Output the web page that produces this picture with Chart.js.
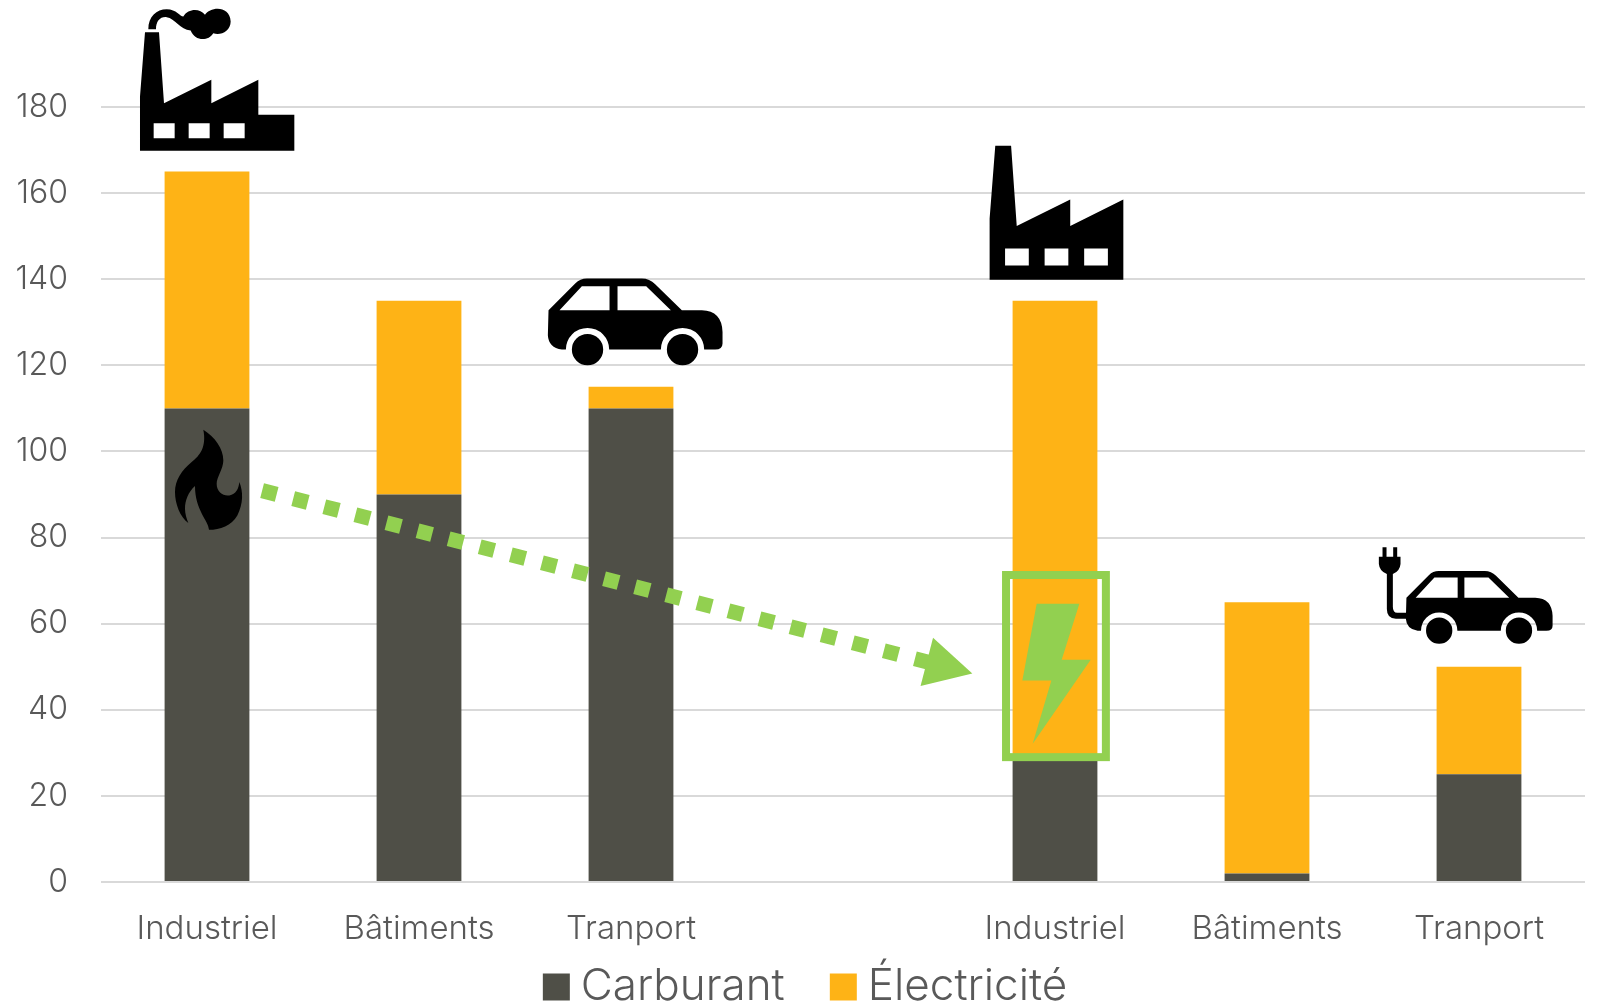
<!DOCTYPE html>
<html lang="fr">
<head>
<meta charset="utf-8">
<title>Carburant et électricité</title>
<script src="https://cdn.jsdelivr.net/npm/chart.js@4/dist/chart.umd.js"></script>
<style>
  html, body { margin: 0; padding: 0; background: #fff; }
  #wrap { width: 1600px; height: 1003px; }
</style>
</head>
<body>
<div id="wrap"><canvas id="chart" width="1600" height="1003"></canvas></div>
<script>
// Values
const categories = ['Industriel', 'Bâtiments', 'Tranport', '', 'Industriel', 'Bâtiments', 'Tranport'];
const carburant = [110, 90, 110, null, 29, 2, 25];
const electricite = [55, 45, 5, null, 106, 63, 25];

const GREY = '#4f4f47';
const ORANGE = '#feb316';
const GREEN = '#92d050';
const GRID = '#d9d9d9';
const TEXT = '#595959';
const FONT = 'Inter, "Noto Sans", sans-serif';

// Pictograms, traced in their own local units (3 units = 1px at scale 1)
const factoryBody = 'M60 453 L60 290 L75 97 L117 97 L132 310 L274 240 L274 310 L415 240 ';
const windows = 'M101 370 H164 V415 H101 Z M206 370 H269 V415 H206 Z M311 370 H374 V415 H311 Z';
const factoryWide = factoryBody + 'L415 345 L523 345 L523 453 Z ' + windows;
const factoryNarrow = factoryBody + 'L415 453 Z ' + windows;
const smokePuffs = 'M85 88 C85 50 110 28 140 28 C170 28 180 50 190 50 C205 25 240 25 255 45 C270 20 330 15 332 65 C332 95 300 108 280 100 C265 125 225 125 212 92 C180 90 165 55 140 52 C120 50 108 65 108 88 Z';
const carPath = 'M55 150 L135 70 Q150 55 170 55 L335 55 Q358 55 375 72 L455 150 L515 150 Q575 152 577 215 L577 250 Q577 268 555 268 ' +
  'L522 268 A65 65 0 0 0 392 268 L237 268 A65 65 0 0 0 107 268 L95 268 Q55 262 53 225 Z ' +
  'M88 150 L155 78 L238 78 L238 150 Z M262 78 L348 78 L422 150 L262 150 Z ' +
  'M125 268 A47 47 0 1 0 219 268 A47 47 0 1 0 125 268 Z M410 268 A47 47 0 1 0 504 268 A47 47 0 1 0 410 268 Z';
const plugPath = 'M68 50 H80 V78 H68 Z M100 50 H112 V78 H100 Z M57 78 H122 V100 Q120 122 99 130 L99 228 Q99 246 112 246 L145 246 L145 264 L108 264 Q81 264 81 235 L81 130 Q59 122 57 100 Z';
const flamePath = 'M130 28 C165 50 190 85 190 120 C190 145 170 170 170 190 C170 215 190 228 208 225 C228 222 236 205 238 185 C250 215 250 250 232 285 C215 315 180 328 147 328 C145 300 105 270 105 197 C85 215 75 240 75 265 C75 280 80 295 85 308 C60 290 45 250 45 215 C45 180 65 150 95 125 C120 105 140 80 130 28 Z';
const boltPath = 'M230 160 L358 160 L305 328 L392 328 L218 580 L274 390 L187 390 Z';

// Overlay anchors: fractional category position and axis value
const icons = [
  { paths: [factoryWide, smokePuffs], cat: -0.4104, val: 204.9, k: 1 / 3, color: '#000' },
  { paths: [carPath], cat: 1.5245, val: 144.4, k: 1 / 3, color: '#000' },
  { paths: [flamePath], cat: -0.2217, val: 107.2, k: 1 / 3, color: '#000' },
  { paths: [factoryNarrow], cat: 3.585, val: 179.5, k: 1.13 / 3, color: '#000' },
  { paths: [boltPath], cat: 3.552, val: 77.0, k: 1 / 3, color: GREEN },
  { paths: [carPath], cat: 5.585, val: 75.8, k: 0.84 / 3, color: '#000' },
  { paths: [plugPath], cat: 5.438, val: 81.6, k: 1 / 3, color: '#000' }
];
const arrowFrom = { cat: 0.26, val: 90.9 };
const arrowTo = { cat: 3.61, val: 48.4 };
const boxFrom = { cat: 3.769, val: 71.3 };
const boxTo = { cat: 4.24, val: 29 };

const overlayPlugin = {
  id: 'overlay',
  beforeDraw(chart) {
    // the legend sits a little right of the page centre
    chart.legend.left = 36;
  },
  afterDatasetsDraw(chart) {
    const { ctx, scales: { x, y } } = chart;
    const px = (p) => [x.getPixelForValue(p.cat), y.getPixelForValue(p.val)];

    // dotted arrow
    const [x0, y0] = px(arrowFrom);
    const [x1, y1] = px(arrowTo);
    const a = Math.atan2(y1 - y0, x1 - x0);
    const len = Math.hypot(x1 - x0, y1 - y0);
    ctx.save();
    ctx.translate(x0, y0);
    ctx.rotate(a);
    ctx.strokeStyle = GREEN;
    ctx.lineWidth = 15;
    ctx.setLineDash([15, 17.1]);
    ctx.beginPath();
    ctx.moveTo(0, 0);
    ctx.lineTo(len - 40, 0);
    ctx.stroke();
    ctx.setLineDash([]);
    ctx.fillStyle = GREEN;
    ctx.beginPath();
    ctx.moveTo(len, 0);
    ctx.lineTo(len - 47, -25);
    ctx.lineTo(len - 47, 25);
    ctx.closePath();
    ctx.fill();
    ctx.restore();

    // frame round the lightning bolt
    const [bx0, by0] = px(boxFrom);
    const [bx1, by1] = px(boxTo);
    ctx.save();
    ctx.strokeStyle = GREEN;
    ctx.lineWidth = 8;
    ctx.strokeRect(bx0, by0, bx1 - bx0, by1 - by0);
    ctx.restore();

    icons.forEach((ic) => {
      const [ix, iy] = px(ic);
      ctx.save();
      ctx.translate(ix, iy);
      ctx.scale(ic.k, ic.k);
      ctx.fillStyle = ic.color;
      ic.paths.forEach((d) => ctx.fill(new Path2D(d), 'evenodd'));
      ctx.restore();
    });
  }
};

// Small swatch with a thick outline keeps the text close to the 27px square
function legendItems(chart) {
  return chart.data.datasets.map((ds, i) => ({
    text: i === 0 ? ds.label + '\u00a0\u00a0\u00a0\u2009' : ds.label,
    fillStyle: ds.backgroundColor,
    strokeStyle: ds.backgroundColor,
    lineWidth: 22,
    fontColor: TEXT,
    datasetIndex: i
  }));
}

new Chart(document.getElementById('chart'), {
  type: 'bar',
  data: {
    labels: categories,
    datasets: [
      { label: 'Carburant', data: carburant, backgroundColor: GREY },
      { label: 'Électricité', data: electricite, backgroundColor: ORANGE }
    ]
  },
  options: {
    responsive: false,
    animation: false,
    layout: { padding: { top: 107, right: 15, bottom: 0, left: 0 } },
    datasets: { bar: { categoryPercentage: 0.4, barPercentage: 1 } },
    plugins: {
      tooltip: { enabled: false },
      legend: {
        position: 'bottom',
        maxHeight: 49,
        labels: {
          color: TEXT,
          boxWidth: 5,
          boxHeight: 5,
          padding: 11,
          generateLabels: legendItems,
          font: { family: FONT, size: 44, weight: 300 }
        }
      }
    },
    scales: {
      x: {
        stacked: true,
        afterFit: (s) => { s.height = 72; },
        grid: { display: false },
        border: { display: false },
        ticks: {
          color: TEXT,
          padding: 19,
          maxRotation: 0,
          autoSkip: false,
          font: { family: FONT, size: 33, weight: 300 }
        }
      },
      y: {
        stacked: true,
        min: 0,
        max: 180,
        afterFit: (s) => { s.width = 101; },
        grid: { color: GRID, lineWidth: 2, drawTicks: false },
        border: { display: false },
        ticks: {
          color: TEXT,
          stepSize: 20,
          padding: 33,
          font: { family: FONT, size: 32, weight: 300 }
        }
      }
    }
  },
  plugins: [overlayPlugin]
});
</script>
</body>
</html>
